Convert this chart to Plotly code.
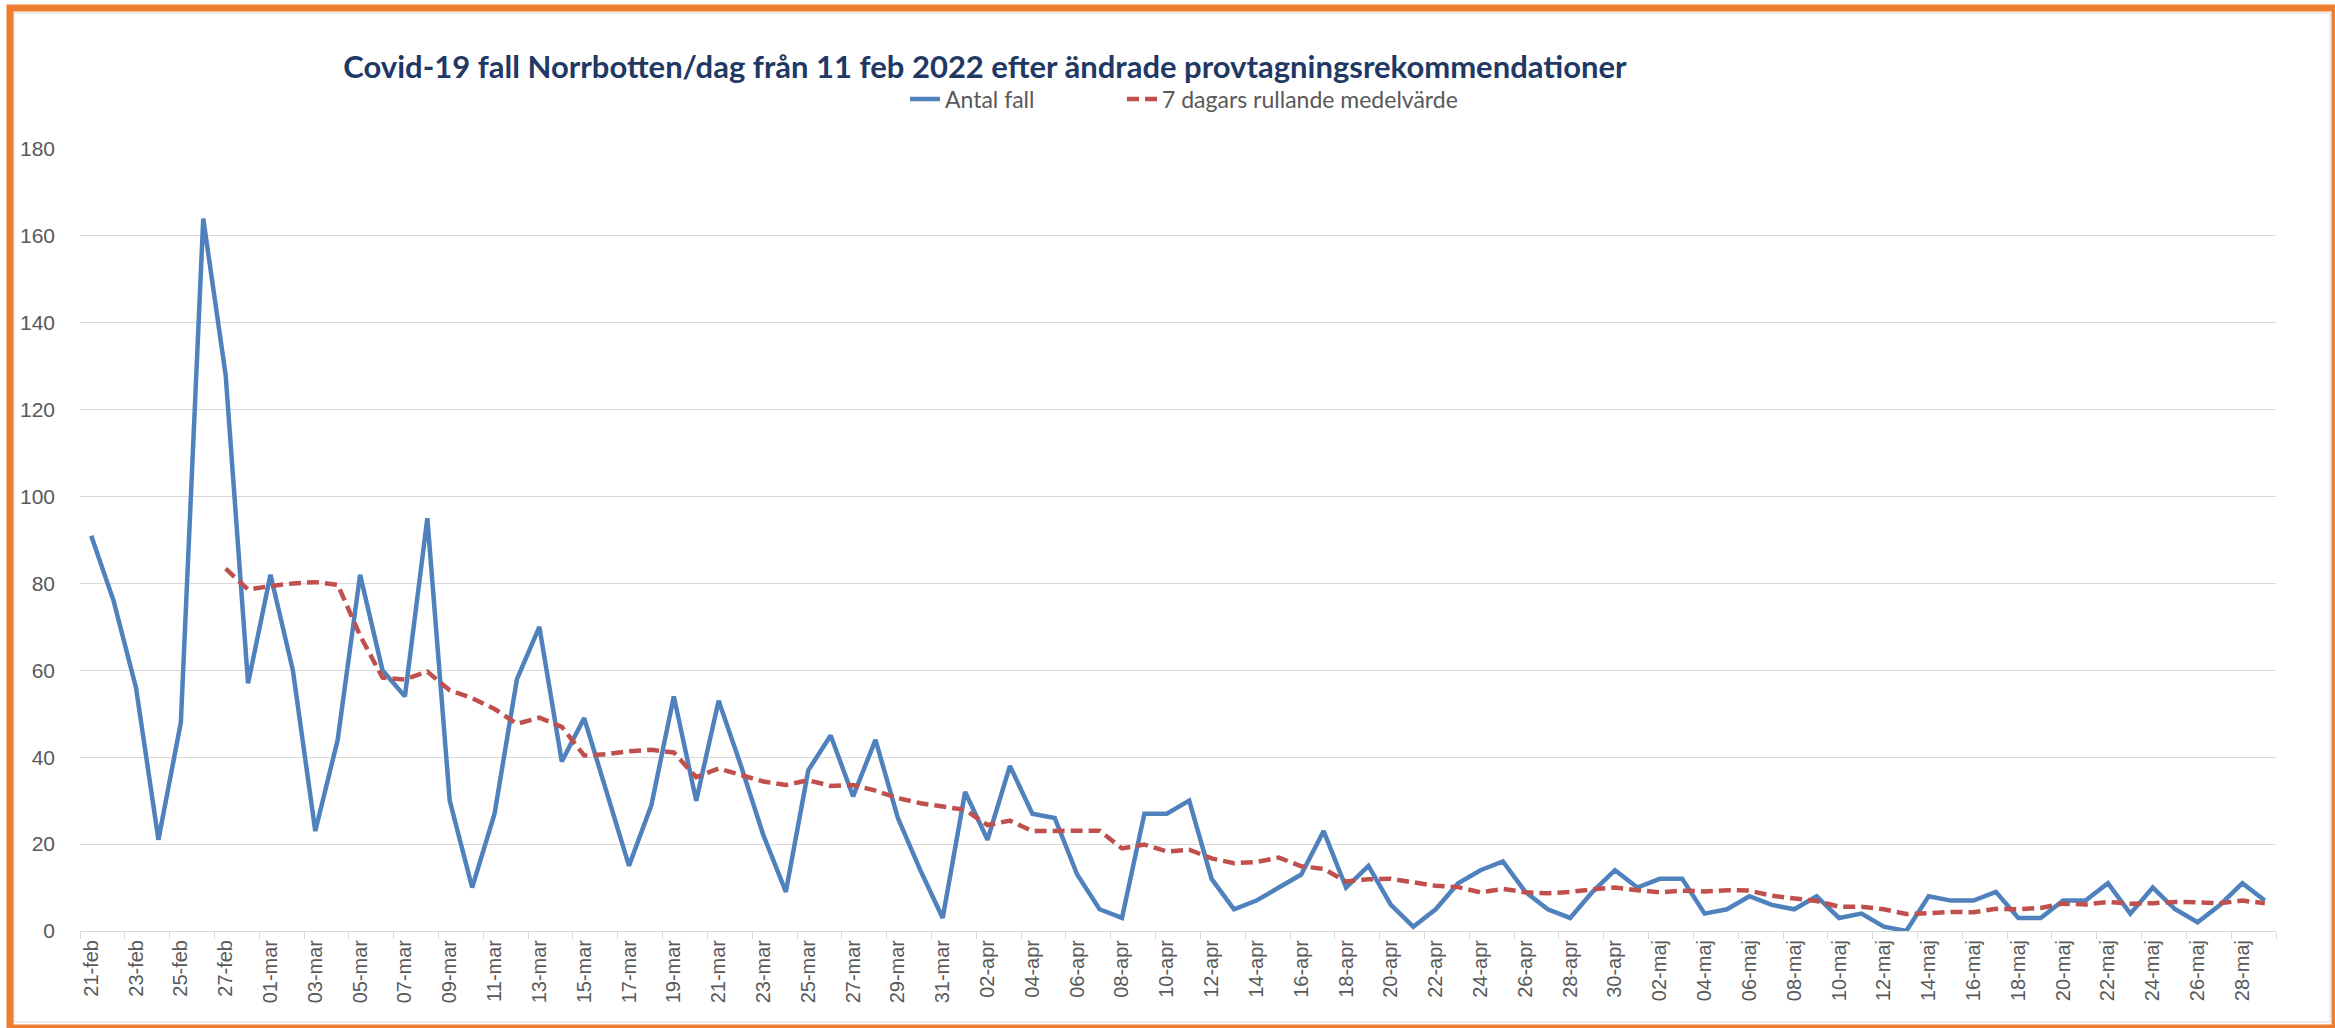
import plotly.graph_objects as go
import pandas as pd

W, H = 2335, 1028
# plot area in pixels (left, right, top, bottom)
PL, PR, PT, PB = 80, 2276, 149, 931

manader = {2: "feb", 3: "mar", 4: "apr", 5: "maj"}
datum = pd.date_range("2022-02-21", "2022-05-29", freq="D")
dagar = [f"{d.day:02d}-{manader[d.month]}" for d in datum]

antal_fall = [
    91, 76, 56, 21, 48, 164, 128, 57,
    82, 60, 23, 44, 82, 60, 54, 95, 30, 10, 27, 58, 70, 39, 49, 32, 15, 29,
    54, 30, 53, 38, 22, 9, 37, 45, 31, 44, 26, 14, 3,
    32, 21, 38, 27, 26, 13, 5, 3, 27, 27, 30, 12, 5, 7, 10, 13, 23, 10, 15,
    6, 1, 5, 11, 14, 16, 9, 5, 3, 9, 14,
    10, 12, 12, 4, 5, 8, 6, 5, 8, 3, 4, 1, 0, 8, 7, 7, 9, 3, 3, 7, 7, 11,
    4, 10, 5, 2, 6, 11, 7,
]

medel_7d = [None] * 6 + [
    83.4, 78.6,
    79.4, 80.0, 80.3, 79.7, 68.0, 58.3, 57.9, 59.7, 55.4, 53.6, 51.1, 47.7,
    49.1, 47.0, 40.4, 40.7, 41.4, 41.7, 41.1, 35.4, 37.4, 35.9, 34.4, 33.6,
    34.7, 33.4, 33.6, 32.3, 30.6, 29.4, 28.6,
    27.9, 24.4, 25.4, 23.0, 23.0, 22.9, 23.1, 19.0, 19.9, 18.3, 18.7, 16.7,
    15.6, 15.9, 16.9, 14.9, 14.3, 11.4, 11.9, 12.0, 11.1, 10.4, 10.1, 8.9,
    9.7, 8.9, 8.7, 9.0, 9.6, 10.0,
    9.4, 8.9, 9.3, 9.1, 9.4, 9.3, 8.1, 7.4, 6.9, 5.6, 5.6, 5.0, 3.9, 4.1,
    4.4, 4.3, 5.1, 5.0, 5.3, 6.3, 6.1, 6.7, 6.3, 6.4, 6.7, 6.6, 6.4, 7.0, 6.4,
]


def px_x(p):
    return (p - PL) / (PR - PL)


def px_y(p):
    return (PB - p) / (PB - PT)


legend_font = dict(family="Lato, sans-serif", size=23, color="#595959")

fig = go.Figure()

fig.add_trace(go.Scatter(
    x=dagar, y=antal_fall, name="Antal fall", mode="lines", showlegend=True,
    line=dict(color="#4F81BD", width=4.5), legend="legend"))

fig.add_trace(go.Scatter(
    x=dagar, y=medel_7d, name="7 dagars rullande medelvärde", mode="lines", showlegend=True,
    line=dict(color="#C0504D", width=4.5, dash="12px,6px"), legend="legend2"))

fig.update_layout(
    width=W, height=H, showlegend=True,
    margin=dict(l=PL, r=W - PR, t=PT, b=H - PB),
    paper_bgcolor="white", plot_bgcolor="white",
    font=dict(family="Liberation Sans, Arial, sans-serif", color="#595959"),
    title=dict(
        text="<b>Covid-19 fall Norrbotten/dag från 11 feb 2022 efter ändrade provtagningsrekommendationer</b>",
        x=985 / W, xanchor="center", y=1 - 67 / H, yanchor="middle",
        font=dict(family="Lato, Carlito, sans-serif", size=31, color="#1F3864")),
    legend=dict(
        orientation="h", x=px_x(905), xanchor="left", y=px_y(99), yanchor="middle",
        font=legend_font, bgcolor="rgba(0,0,0,0)", visible=True),
    legend2=dict(
        orientation="h", x=px_x(1122), xanchor="left", y=px_y(99), yanchor="middle",
        font=legend_font, bgcolor="rgba(0,0,0,0)", visible=True),
    xaxis=dict(
        type="category", range=[-0.5, len(dagar) - 0.5], automargin=False,
        tickmode="linear", tick0=0, dtick=2, tickson="boundaries",
        tickangle=-90, tickfont=dict(size=20, color="#595959"),
        showgrid=False, showline=True, linecolor="#D9D9D9", linewidth=1,
        ticks="outside", ticklen=7, tickcolor="#D9D9D9"),
    yaxis=dict(
        range=[0, 180], dtick=20, showgrid=True, gridcolor="#D9D9D9",
        zeroline=False, showline=False, ticks="", automargin=False,
        tickfont=dict(size=21, color="#595959"), ticklabelstandoff=24),
    shapes=[
        dict(type="rect", xref="paper", yref="paper",
             x0=px_x(10), x1=px_x(2335), y0=px_y(1028), y1=px_y(8),
             line=dict(color="#ED7D31", width=7), fillcolor="rgba(0,0,0,0)", layer="above"),
        dict(type="rect", xref="paper", yref="paper",
             x0=px_x(14), x1=px_x(2330), y0=px_y(1022), y1=px_y(13),
             line=dict(color="#D9D9D9", width=1), fillcolor="rgba(0,0,0,0)", layer="below"),
    ],
)

# the page's default body margin would push the figure 8px down and right
fig.write_html("out.html", config={"displayModeBar": False},
               post_script="document.body.style.margin = '0px';")
